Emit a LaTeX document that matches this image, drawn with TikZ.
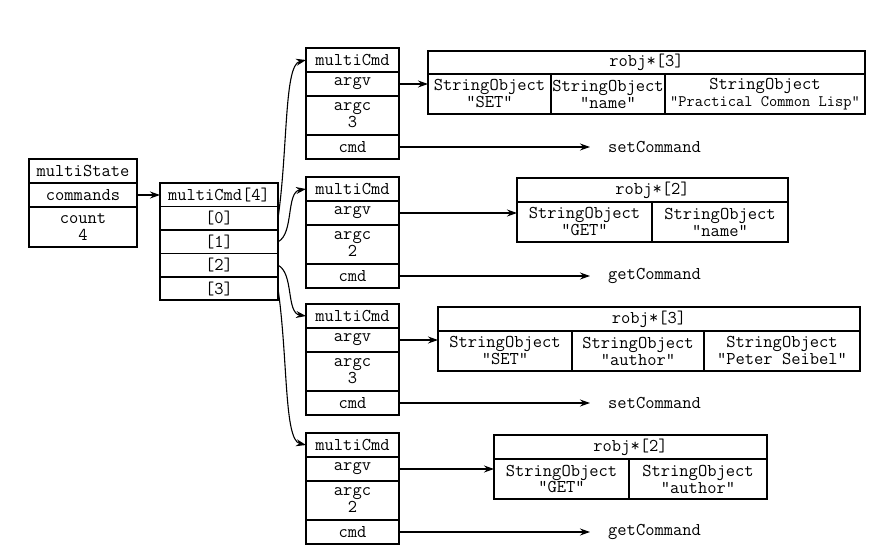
\documentclass[tikz,border=0pt]{standalone}
\usepackage{fontspec}
\usepackage{tikz}
\usetikzlibrary{arrows, arrows.meta, positioning}
\newcommand{\cellfont}{\ttfamily\fontsize{18}{17}\selectfont}

\begin{document}
\begin{tikzpicture}[x=1pt, y=1pt]

        \tikzstyle{cell} = [rectangle, draw=black, line width=1.6pt, inner sep=0pt, outer sep=0pt, align=center, font=\cellfont]
        \tikzstyle{msbox} = [cell, minimum width=108pt, minimum height=24pt]
        \tikzstyle{arraybox} = [cell, minimum width=118pt, minimum height=23.4pt]
        \tikzstyle{cmdbox} = [cell, minimum width=93pt, minimum height=24pt]
        \tikzstyle{objbox} = [cell, minimum height=40pt]
        \tikzstyle{handler} = [inner xsep=18pt, inner ysep=0pt, font=\cellfont]
        \tikzstyle{arrow} = [line width=1.1pt, ->, >={Stealth[length=10pt, width=7pt]}]

        \useasboundingbox (0,0) rectangle (879,-556);

        % multiState
        \node (multiState) [msbox] at (83,-171) {multiState};
        \node (commands) [msbox, below=0pt of multiState] {commands};
        \node (count) [msbox, minimum height=40pt, below=0pt of commands] {count\\4};

        % multiCmd[4]
        \node (cmdarr) [arraybox] at (219,-195) {multiCmd[4]};
        \node (slot0) [arraybox, below=0pt of cmdarr] {[0]};
        \node (slot1) [arraybox, below=0pt of slot0] {[1]};
        \node (slot2) [arraybox, below=0pt of slot1] {[2]};
        \node (slot3) [arraybox, below=0pt of slot2] {[3]};

        % first command
        \node (mcmd1) [cmdbox] at (352.5,-60) {multiCmd};
        \node (argv1) [cmdbox, below=0pt of mcmd1] {argv};
        \node (argc1) [cmdbox, minimum height=39pt, below=0pt of argv1] {argc\\3};
        \node (cmd1) [cmdbox, below=0pt of argc1] {cmd};
        \node (robj1) [cell, minimum width=437pt, minimum height=23pt] at (646.5,-62.5) {robj*[3]};
        \node (so11) [objbox, minimum width=123pt, anchor=north west] at (robj1.south west) {StringObject\\"SET"};
        \node (so12) [objbox, minimum width=114pt, right=0pt of so11] {StringObject\\"name"};
        \node (so13) [objbox, minimum width=200pt, right=0pt of so12] {StringObject\\{\fontsize{16}{17}\selectfont"Practical Common Lisp"}};
        \node (h1) [handler, right=191pt of cmd1] {setCommand};

        % second command
        \node (mcmd2) [cmdbox] at (352.5,-189) {multiCmd};
        \node (argv2) [cmdbox, below=0pt of mcmd2] {argv};
        \node (argc2) [cmdbox, minimum height=39pt, below=0pt of argv2] {argc\\2};
        \node (cmd2) [cmdbox, below=0pt of argc2] {cmd};
        \node (robj2) [cell, minimum width=271pt, minimum height=24pt] at (652.5,-190) {robj*[2]};
        \node (so21) [objbox, minimum width=135pt, anchor=north west] at (robj2.south west) {StringObject\\"GET"};
        \node (so22) [objbox, minimum width=136pt, right=0pt of so21] {StringObject\\"name"};
        \node (h2) [handler, right=191pt of cmd2] {getCommand};

        % third command
        \node (mcmd3) [cmdbox] at (352.5,-316) {multiCmd};
        \node (argv3) [cmdbox, below=0pt of mcmd3] {argv};
        \node (argc3) [cmdbox, minimum height=39pt, below=0pt of argv3] {argc\\3};
        \node (cmd3) [cmdbox, below=0pt of argc3] {cmd};
        \node (robj3) [cell, minimum width=422pt, minimum height=24pt] at (649,-319) {robj*[3]};
        \node (so31) [objbox, minimum width=134pt, anchor=north west] at (robj3.south west) {StringObject\\"SET"};
        \node (so32) [objbox, minimum width=132pt, right=0pt of so31] {StringObject\\"author"};
        \node (so33) [objbox, minimum width=156pt, right=0pt of so32] {StringObject\\"Peter Seibel"};
        \node (h3) [handler, right=191pt of cmd3] {setCommand};

        % fourth command
        \node (mcmd4) [cmdbox] at (352.5,-445) {multiCmd};
        \node (argv4) [cmdbox, below=0pt of mcmd4] {argv};
        \node (argc4) [cmdbox, minimum height=39pt, below=0pt of argv4] {argc\\2};
        \node (cmd4) [cmdbox, below=0pt of argc4] {cmd};
        \node (robj4) [cell, minimum width=273pt, minimum height=24pt] at (630.5,-447) {robj*[2]};
        \node (so41) [objbox, minimum width=135pt, anchor=north west] at (robj4.south west) {StringObject\\"GET"};
        \node (so42) [objbox, minimum width=138pt, right=0pt of so41] {StringObject\\"author"};
        \node (h4) [handler, right=191pt of cmd4] {getCommand};

        \draw [arrow] (commands) -- (cmdarr);
        \draw [arrow] (slot0.east) .. controls +(10,70) and +(-22,-5) .. (mcmd1.west);
        \draw [arrow] (slot1.east) .. controls +(16,8) and +(-20,-3) .. (mcmd2.west);
        \draw [arrow] (slot2.east) .. controls +(16,-8) and +(-20,3) .. (mcmd3.west);
        \draw [arrow] (slot3.east) .. controls +(10,-70) and +(-22,5) .. (mcmd4.west);

        \draw [arrow] (argv1) -- (argv1 -| so11.west);
        \draw [arrow] (argv2) -- (argv2 -| so21.west);
        \draw [arrow] (argv3) -- (argv3 -| so31.west);
        \draw [arrow] (argv4) -- (argv4 -| so41.west);

        \draw [arrow] (cmd1) -- (h1);
        \draw [arrow] (cmd2) -- (h2);
        \draw [arrow] (cmd3) -- (h3);
        \draw [arrow] (cmd4) -- (h4);
    \end{tikzpicture}
\end{document}
